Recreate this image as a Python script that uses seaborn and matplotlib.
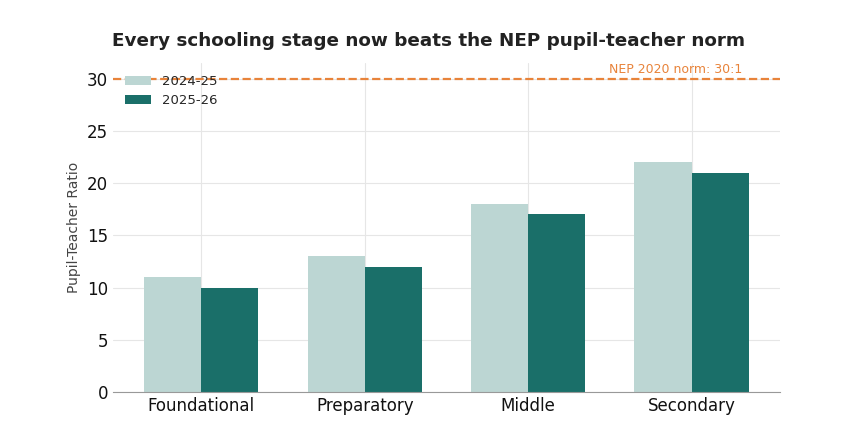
import seaborn as sns
import matplotlib.pyplot as plt
import pandas as pd

stages = ['Foundational', 'Preparatory', 'Middle', 'Secondary']
years = ['2024-25', '2025-26']
ptr_2024 = [11, 13, 18, 22]
ptr_2025 = [10, 12, 17, 21]
nep_norm = 30

df = pd.DataFrame({
    'stage': stages * 2,
    'year': [years[0]] * 4 + [years[1]] * 4,
    'ratio': ptr_2024 + ptr_2025,
})

sns.set_style('white')
fig = plt.figure(figsize=(8.58, 4.33), dpi=100)
ax = fig.add_axes([0.1317, 0.0947, 0.7773, 0.7598])

sns.barplot(data=df, x='stage', y='ratio', hue='year', order=stages, hue_order=years,
            palette=['#bcd6d3', '#1a6f69'], saturation=1, width=0.7, linewidth=0,
            ax=ax, zorder=2)

ax.axhline(nep_norm, color='#e8833a', linestyle='--', linewidth=1.6, zorder=3)
ax.text(2.9, nep_norm + 0.3, 'NEP 2020 norm: 30:1', color='#e8833a', fontsize=9,
        ha='center', va='bottom')

ax.set_xlim(-0.54, 3.54)
ax.set_ylim(0, 31.5)
ax.set_yticks([0, 5, 10, 15, 20, 25, 30])
ax.grid(True, color='#e6e6e6', linewidth=0.8, zorder=0)
ax.set_axisbelow(True)
for s in ['top', 'right', 'left']:
    ax.spines[s].set_visible(False)
ax.spines['bottom'].set_color('#999999')
ax.tick_params(axis='both', labelsize=12, length=0, labelcolor='#111111')
ax.set_xlabel('')
ax.set_ylabel('Pupil-Teacher Ratio', fontsize=10, color='#444444')
fig.suptitle('Every schooling stage now beats the NEP pupil-teacher norm',
             fontsize=13.2, fontweight='bold', color='#222222', x=0.5, y=0.925)
ax.legend(loc='upper left', frameon=False, fontsize=9.5, bbox_to_anchor=(0.0, 1.0))

plt.savefig('out.png', dpi=100)
